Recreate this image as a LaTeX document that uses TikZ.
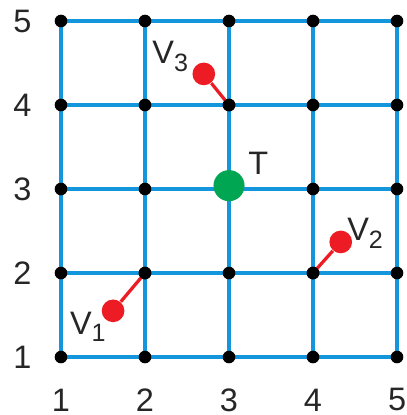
\documentclass[tikz,border=0pt]{standalone}
\usepackage{fontspec}
\setmainfont{Liberation Sans}
\definecolor{gridblue}{RGB}{20,150,220}
\definecolor{vred}{RGB}{237,28,36}
\definecolor{tgreen}{RGB}{0,166,81}
\newcommand{\mysub}[1]{\raisebox{-0.45ex}{\fontsize{8.5}{10}\selectfont #1}}
\begin{document}
\begin{tikzpicture}[x=1cm,y=1cm,
  gridline/.style={gridblue,line width=1.1pt},
  vertex/.style={circle,fill=black,inner sep=0pt,minimum size=0.15cm},
  reddot/.style={circle,fill=vred,inner sep=0pt,minimum size=0.27cm},
  greendot/.style={circle,fill=tgreen,inner sep=0pt,minimum size=0.37cm},
  redline/.style={vred,line width=1.1pt},
  lab/.style={font=\fontsize{11}{13}\selectfont,text=black!85}]
\useasboundingbox (0.274,0.310) rectangle (5.107,5.25);
\foreach \i in {1,...,5} {
  \draw[gridline] (1,\i) -- (5,\i);
  \draw[gridline] (\i,1) -- (\i,5);
}
\foreach \i in {1,...,5} {
  \node[lab] (xl\i) at (\i,0.49) {\i};
  \node[lab] (yl\i) at (0.54,\i) {\i};
}
\foreach \x in {1,...,5} \foreach \y in {1,...,5} {
  \node[vertex] (p\x\y) at (\x,\y) {};
}
\node[reddot] (v3) at (2.70,4.37) {};
\node[reddot] (v2) at (4.33,2.37) {};
\node[reddot] (v1) at (1.62,1.55) {};
\draw[redline] (v3) -- (p34.center);
\draw[redline] (v2) -- (p42.center);
\draw[redline] (v1) -- (p22.center);
\node[vertex] at (p34) {};
\node[vertex] at (p42) {};
\node[vertex] at (p22) {};
\node[greendot] (t) at (3,3.04) {};
\node[lab] (lv3) at (2.30,4.58) {V\mysub{3}};
\node[lab] (lt) at (3.35,3.31) {T};
\node[lab] (lv2) at (4.62,2.47) {V\mysub{2}};
\node[lab] (lv1) at (1.32,1.36) {V\mysub{1}};
\end{tikzpicture}
\end{document}
